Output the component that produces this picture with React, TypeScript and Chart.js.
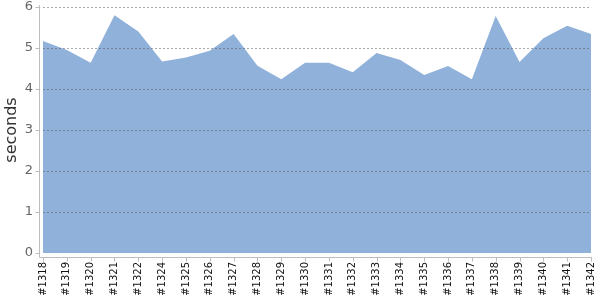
import React, { useEffect, useRef } from "react";
import { Chart, registerables } from "chart.js";

Chart.register(...registerables);

const builds = [
  "#1318", "#1319", "#1320", "#1321", "#1322", "#1324", "#1325", "#1326",
  "#1327", "#1328", "#1329", "#1330", "#1331", "#1332", "#1333", "#1334",
  "#1335", "#1336", "#1337", "#1338", "#1339", "#1340", "#1341", "#1342",
];

const seconds = [
  5.17, 4.95, 4.64, 5.8, 5.4, 4.67, 4.77, 4.93,
  5.34, 4.57, 4.24, 4.64, 4.64, 4.41, 4.88, 4.71,
  4.34, 4.56, 4.24, 5.78, 4.66, 5.24, 5.54, 5.34,
];

const yTicks = [0, 1, 2, 3, 4, 5, 6];

const overlay = {
  id: "overlay",
  afterDatasetsDraw(chart: any) {
    const { ctx, chartArea, scales } = chart;
    const xs = scales.x;
    const ys = scales.y;
    ctx.save();
    ctx.lineWidth = 1;
    // dashed gridlines drawn over the area
    ctx.strokeStyle = "rgba(85,85,85,0.5)";
    ctx.setLineDash([2, 2]);
    yTicks.forEach((v) => {
      if (v === 0) return;
      const py = Math.round(ys.getPixelForValue(v)) + 0.5;
      ctx.beginPath();
      ctx.moveTo(chartArea.left, py);
      ctx.lineTo(chartArea.right, py);
      ctx.stroke();
    });
    ctx.setLineDash([]);
    // axis lines, offset from the plot area
    ctx.strokeStyle = "#bdbdbd";
    const ax = chartArea.left - 3.5;
    const ay = chartArea.bottom + 4.5;
    ctx.beginPath();
    ctx.moveTo(ax, chartArea.top - 2);
    ctx.lineTo(ax, ay);
    ctx.lineTo(chartArea.right + 1, ay);
    ctx.stroke();
    ctx.beginPath();
    builds.forEach((_, i) => {
      const px = Math.round(xs.getPixelForValue(i)) + 0.5;
      ctx.moveTo(px, ay);
      ctx.lineTo(px, ay + 4);
    });
    yTicks.forEach((v) => {
      const py = Math.round(ys.getPixelForValue(v)) + 0.5;
      ctx.moveTo(ax - 4, py);
      ctx.lineTo(ax, py);
    });
    ctx.stroke();
    ctx.restore();
  },
};

export default function App() {
  const ref = useRef<HTMLCanvasElement | null>(null);

  useEffect(() => {
    if (!ref.current) return;
    const chart = new Chart(ref.current, {
      type: "line",
      data: {
        labels: builds,
        datasets: [
          {
            data: seconds,
            fill: "origin",
            backgroundColor: "#8fb1da",
            borderColor: "#8fb1da",
            borderWidth: 0,
            pointRadius: 0,
            tension: 0,
          },
        ],
      },
      options: {
        animation: false,
        responsive: false,
        layout: { padding: { top: 7, right: 9, left: 0, bottom: 0 } },
        plugins: { legend: { display: false }, tooltip: { enabled: false } },
        scales: {
          x: {
            type: "category",
            offset: false,
            grid: { display: false, drawTicks: false },
            border: { display: false },
            ticks: {
              autoSkip: false,
              minRotation: 90,
              maxRotation: 90,
              padding: 9,
              color: "#111",
              font: { family: "DejaVu Sans", size: 10 },
            },
            afterFit(scale: any) {
              scale.height = 47;
              scale.paddingLeft = 0;
              scale.paddingRight = 0;
            },
          },
          y: {
            min: 0,
            max: 6,
            grid: { display: false, drawTicks: false },
            border: { display: false },
            ticks: {
              stepSize: 1,
              padding: 10,
              color: "#666",
              font: { family: "DejaVu Sans", size: 13 },
            },
            title: {
              display: true,
              text: "seconds",
              color: "#333",
              padding: { top: 2, bottom: 0 },
              font: { family: "DejaVu Sans", size: 16 },
            },
            afterFit(scale: any) {
              scale.width = 43;
              scale.paddingTop = 0;
              scale.paddingBottom = 0;
            },
          },
        },
      },
      plugins: [overlay],
    });
    return () => chart.destroy();
  }, []);

  return (
    <div style={{ position: "absolute", left: 0, top: 0, width: 600, height: 300, background: "#fff" }}>
      <canvas ref={ref} width={600} height={300} style={{ display: "block" }} />
    </div>
  );
}
